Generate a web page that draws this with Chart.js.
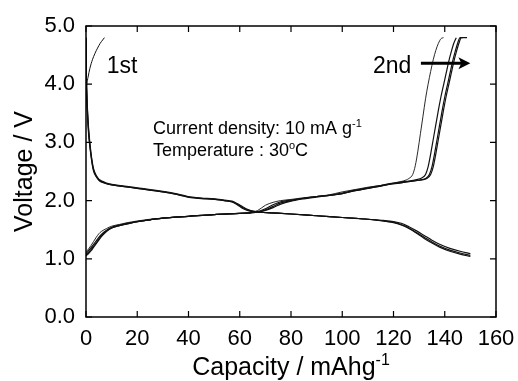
<!DOCTYPE html>
<html><head><meta charset="utf-8">
<script src="https://cdn.jsdelivr.net/npm/chart.js@4.4.0/dist/chart.umd.min.js"></script>
<style>html,body{margin:0;padding:0;background:#fff}#wrap{width:518px;height:381px}</style>
</head><body><div id="wrap"><canvas id="c" width="518" height="381"></canvas></div>
<script>
// ---- data (capacity mAh/g, voltage V) ----
const xTicks = [0,20,40,60,80,100,120,140,160];
const yTicks = [0.0,1.0,2.0,3.0,4.0,5.0];

const cap_c1 = [0,0.3,0.8,1.5,2.5,3.5,4.5,5.5,6.5,7.2];
const v_c1   = [3.85,4.0,4.12,4.27,4.42,4.53,4.62,4.7,4.76,4.8];

const cap_d1 = [0,0.1,0.3,0.6,1.0,1.5,2.0,2.5,3.0,4.0,5.0,6.5,8,10,15,20,25,30,35,38,41,45,50,54,57,59,61,63,65,68,72,80,90,100,110,116,120,123,126,129,132,135,138,142,146,150];
const v_d1   = [4.8,4.3,3.9,3.55,3.25,3.0,2.8,2.65,2.54,2.43,2.37,2.33,2.3,2.28,2.25,2.22,2.19,2.16,2.12,2.09,2.06,2.045,2.03,2.01,1.99,1.95,1.9,1.85,1.82,1.8,1.79,1.77,1.74,1.71,1.68,1.66,1.64,1.61,1.55,1.48,1.40,1.32,1.25,1.18,1.13,1.09];

const cap_d2 = [0,0.1,0.3,0.6,1.0,1.5,2.0,2.5,3.0,4.0,5.0,6.5,8,10,15,20,25,30,35,38,41,45,50,54,57,59,61,63,65,68,72,80,90,100,110,116,120,123,126,129,132,135,138,142,146,150];
const v_d2   = [4.8,4.25,3.85,3.5,3.2,2.96,2.77,2.62,2.52,2.42,2.36,2.32,2.29,2.27,2.24,2.21,2.18,2.15,2.11,2.08,2.055,2.04,2.025,2.0,1.98,1.94,1.88,1.84,1.82,1.8,1.79,1.77,1.74,1.71,1.68,1.65,1.63,1.59,1.53,1.45,1.37,1.29,1.22,1.15,1.10,1.06];

const cap_d3 = [0,0.1,0.3,0.6,1.0,1.5,2.0,2.5,3.0,4.0,5.0,6.5,8,10,15,20,25,30,35,38,41,45,50,54,57,59,61,63,65,68,72,80,90,100,110,116,120,123,126,129,132,135,138,142,146,150];
const v_d3   = [4.8,4.2,3.8,3.45,3.15,2.93,2.75,2.6,2.5,2.41,2.35,2.31,2.29,2.27,2.24,2.21,2.18,2.15,2.11,2.08,2.05,2.035,2.02,2.0,1.975,1.93,1.87,1.83,1.81,1.8,1.79,1.77,1.74,1.71,1.68,1.65,1.62,1.58,1.52,1.44,1.35,1.27,1.2,1.13,1.08,1.04];

const cap_c2 = [0,1,2,3,4,5,6,8,10,13,16,20,25,30,40,50,60,64,67,70,73,76,80,85,90,95,100,105,110,115,120,124,126,127.5,128.5,129.5,130.5,131.5,132.5,133.5,134.5,135.5,136.5,137.5,138.5,139.5];
const v_c2   = [1.12,1.17,1.23,1.3,1.37,1.43,1.47,1.52,1.56,1.59,1.62,1.65,1.68,1.7,1.73,1.76,1.78,1.79,1.83,1.92,1.97,2.0,2.02,2.05,2.07,2.1,2.15,2.19,2.23,2.26,2.3,2.34,2.38,2.45,2.6,2.85,3.15,3.45,3.75,4.0,4.22,4.42,4.58,4.7,4.78,4.8];

const cap_c3 = [0,1,2,3,4,5,6,8,10,13,16,20,25,30,40,50,60,64,67,70,73,76,80,85,90,95,100,105,110,115,120,125,129,131,132.5,133.5,134.5,135.5,136.5,137.5,138.5,139.5,140.5,141.5,142.5,143.5,144.5];
const v_c3   = [1.09,1.14,1.19,1.25,1.31,1.37,1.42,1.49,1.54,1.58,1.61,1.64,1.67,1.7,1.73,1.76,1.78,1.79,1.81,1.86,1.93,1.98,2.01,2.04,2.07,2.09,2.13,2.18,2.22,2.26,2.3,2.33,2.36,2.39,2.45,2.58,2.8,3.05,3.3,3.55,3.78,3.98,4.18,4.38,4.55,4.7,4.8];

const cap_c4 = [0,1,2,3,4,5,6,8,10,13,16,20,25,30,40,50,60,64,67,70,73,76,80,85,90,95,100,105,110,115,120,125,130,132.5,134,135,136,137,138,139,140,141,142,143,144,145,146,147];
const v_c4   = [1.07,1.11,1.16,1.22,1.28,1.34,1.4,1.48,1.53,1.57,1.6,1.64,1.67,1.7,1.73,1.76,1.78,1.79,1.8,1.84,1.9,1.96,2.0,2.04,2.07,2.09,2.12,2.17,2.21,2.25,2.29,2.32,2.35,2.38,2.45,2.58,2.8,3.05,3.3,3.55,3.78,3.98,4.18,4.38,4.55,4.7,4.8,4.8];

const cap_c5 = [0,1,2,3,4,5,6,8,10,13,16,20,25,30,40,50,60,64,67,70,73,76,80,85,90,95,100,105,110,115,120,125,130,133,134.5,135.5,136.5,137.5,138.5,139.5,140.5,141.5,142.5,143.5,144.5,145.5,146.5,148.7];
const v_c5   = [1.05,1.09,1.14,1.2,1.26,1.32,1.38,1.47,1.53,1.57,1.6,1.64,1.67,1.7,1.73,1.76,1.78,1.79,1.8,1.83,1.88,1.94,1.99,2.03,2.06,2.09,2.12,2.17,2.21,2.25,2.29,2.32,2.35,2.38,2.45,2.58,2.8,3.05,3.3,3.55,3.78,3.98,4.18,4.38,4.55,4.7,4.8,4.8];

const seriesList = [
  [cap_c1, v_c1, 1.0], [cap_d1, v_d1, 1.2], [cap_d2, v_d2, 1.2], [cap_d3, v_d3, 1.2],
  [cap_c2, v_c2, 0.9], [cap_c3, v_c3, 1.2], [cap_c4, v_c4, 1.2], [cap_c5, v_c5, 1.2]
];

const FONT = '"Liberation Sans", Arial, Helvetica, sans-serif';

const datasets = seriesList.map(([xs, ys, w]) => ({
  data: xs.map((x, i) => ({x, y: ys[i]})),
  showLine: true, pointRadius: 0, borderColor: '#111', borderWidth: w,
  cubicInterpolationMode: 'monotone', fill: false
}));

const decor = {
  id: 'decor',
  afterDraw(chart) {
    const {ctx, chartArea: a, scales: {x, y}} = chart;
    ctx.save();
    ctx.strokeStyle = '#000'; ctx.lineWidth = 1.5;
    ctx.strokeRect(a.left, a.top, a.right - a.left, a.bottom - a.top);
    ctx.lineWidth = 1.2;
    const tl = 6;
    ctx.beginPath();
    xTicks.forEach(t => { const px = x.getPixelForValue(t);
      ctx.moveTo(px, a.bottom); ctx.lineTo(px, a.bottom - tl);
      ctx.moveTo(px, a.top); ctx.lineTo(px, a.top + tl); });
    yTicks.forEach(t => { const py = y.getPixelForValue(t);
      ctx.moveTo(a.left, py); ctx.lineTo(a.left + tl, py);
      ctx.moveTo(a.right, py); ctx.lineTo(a.right - tl, py); });
    ctx.stroke();

    ctx.fillStyle = '#000';
    ctx.textBaseline = 'alphabetic';
    ctx.font = '23px ' + FONT; ctx.textAlign = 'left';
    ctx.fillText('1st', x.getPixelForValue(8.1), y.getPixelForValue(4.19));
    ctx.fillText('2nd', x.getPixelForValue(112), y.getPixelForValue(4.19));
    const ax0 = x.getPixelForValue(130.7), ax1 = x.getPixelForValue(150), ay = y.getPixelForValue(4.36);
    ctx.lineWidth = 3; ctx.beginPath(); ctx.moveTo(ax0, ay); ctx.lineTo(ax1 - 8, ay); ctx.stroke();
    ctx.beginPath(); ctx.moveTo(ax1, ay); ctx.lineTo(ax1 - 12, ay - 6); ctx.lineTo(ax1 - 9, ay); ctx.lineTo(ax1 - 12, ay + 6); ctx.closePath(); ctx.fill();

    function supText(parts, px, py, size) {
      let cx = px;
      parts.forEach(([t, sup]) => {
        if (sup) { ctx.font = Math.round(size * 0.62) + 'px ' + FONT; ctx.fillText(t, cx, py - size * 0.42); }
        else { ctx.font = size + 'px ' + FONT; ctx.fillText(t, cx, py); }
        cx += ctx.measureText(t).width;
      });
      return cx - px;
    }
    ctx.textAlign = 'left';
    supText([['Current density: 10 mA g', false], ['-1', true]], x.getPixelForValue(26.1), y.getPixelForValue(3.14), 18);
    supText([['Temperature : 30', false], ['o', true], ['C', false]], x.getPixelForValue(26.1), y.getPixelForValue(2.76), 18);

    const ts = 25;
    ctx.font = ts + 'px ' + FONT;
    const w1 = ctx.measureText('Capacity / mAhg').width;
    ctx.font = Math.round(ts * 0.62) + 'px ' + FONT;
    const w2 = ctx.measureText('-1').width;
    const cxm = (a.left + a.right) / 2;
    supText([['Capacity / mAhg', false], ['-1', true]], cxm - (w1 + w2) / 2, 375, ts);

    ctx.translate(32, (a.top + a.bottom) / 2);
    ctx.rotate(-Math.PI / 2);
    ctx.font = ts + 'px ' + FONT; ctx.textAlign = 'center';
    ctx.fillText('Voltage / V', 0, 0);
    ctx.restore();
  }
};

new Chart(document.getElementById('c'), {
  type: 'scatter',
  data: { datasets },
  options: {
    responsive: false, animation: false, devicePixelRatio: 1,
    layout: { padding: { top: 26, right: 22, left: 0, bottom: 0 } },
    plugins: { legend: { display: false }, tooltip: { enabled: false } },
    scales: {
      x: { type: 'linear', min: 0, max: 160,
        afterFit(s) { s.height = 64; s.paddingLeft = 0; s.paddingRight = 0; },
        afterBuildTicks(s) { s.ticks = xTicks.map(v => ({value: v})); },
        grid: { display: false, drawTicks: false }, border: { display: false },
        ticks: { padding: 9, color: '#000', font: { size: 22, family: FONT }, maxRotation: 0, autoSkip: false } },
      y: { type: 'linear', min: 0, max: 5,
        afterFit(s) { s.width = 86; s.paddingTop = 0; s.paddingBottom = 0; },
        afterBuildTicks(s) { s.ticks = yTicks.map(v => ({value: v})); },
        grid: { display: false, drawTicks: false }, border: { display: false },
        ticks: { padding: 11, color: '#000', font: { size: 22, family: FONT }, autoSkip: false,
          callback: v => Number(v).toFixed(1) } }
    }
  },
  plugins: [decor]
});
</script></body></html>
